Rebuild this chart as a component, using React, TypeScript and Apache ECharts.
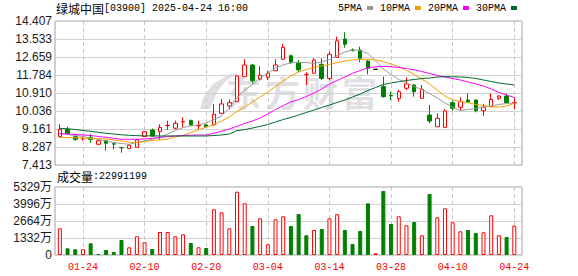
import React, { useEffect, useRef } from 'react';
import * as echarts from 'echarts';

const stockName = '绿城中国';
const stockCode = '03900';
const stamp = '2025-04-24 16:00';
const lastVolume = '22991199';

const dates = ['01-21','01-22','01-23','01-24','01-27','01-28','02-03','02-04','02-05','02-06','02-07','02-10','02-11','02-12','02-13','02-14','02-17','02-18','02-19','02-20','02-21','02-24','02-25','02-26','02-27','02-28','03-03','03-04','03-05','03-06','03-07','03-10','03-11','03-12','03-13','03-14','03-17','03-18','03-19','03-20','03-21','03-26','03-27','03-28','03-31','04-01','04-02','04-03','04-07','04-08','04-09','04-10','04-11','04-14','04-15','04-16','04-17','04-22','04-23','04-24'];

// [open, close, low, high]
const candles: number[][] = [
  [8.79, 9.15, 8.75, 9.39], [9.15, 8.95, 8.88, 9.27], [8.79, 8.66, 8.59, 8.84], [8.68, 8.70, 8.59, 8.79],
  [8.76, 8.66, 8.50, 8.92], [8.42, 8.59, 8.40, 8.63], [8.59, 8.47, 8.11, 8.63], [8.44, 8.43, 8.17, 8.50],
  [8.26, 8.25, 8.01, 8.30], [8.22, 8.37, 8.19, 8.43], [8.27, 8.63, 8.26, 8.68], [8.79, 9.03, 8.77, 9.06],
  [9.11, 8.82, 8.80, 9.18], [9.03, 9.24, 8.63, 9.39], [9.33, 9.34, 9.11, 9.57], [9.20, 9.44, 9.15, 9.57],
  [9.51, 9.52, 9.24, 9.73], [9.57, 9.36, 9.31, 9.63], [9.31, 9.33, 9.15, 9.57], [9.36, 9.27, 9.24, 9.40],
  [9.36, 9.88, 9.33, 10.38], [9.92, 10.38, 9.89, 10.62], [10.28, 10.44, 10.12, 10.60], [10.49, 11.74, 10.47, 11.78],
  [11.70, 12.27, 11.69, 12.55], [12.27, 11.51, 11.38, 12.32], [11.58, 11.78, 11.51, 12.22], [11.67, 11.87, 11.54, 11.99],
  [11.99, 12.27, 11.98, 12.55], [12.55, 13.13, 12.51, 13.29], [12.72, 12.38, 12.34, 12.77], [12.40, 12.03, 11.92, 12.51],
  [11.80, 11.82, 11.30, 11.92], [11.87, 12.51, 11.86, 12.60], [12.30, 11.62, 11.54, 12.60], [11.62, 12.79, 11.54, 12.92],
  [12.64, 13.44, 12.63, 13.65], [13.53, 13.28, 13.11, 13.86], [12.99, 12.98, 12.92, 13.08], [13.00, 12.60, 12.40, 13.16],
  [12.46, 12.11, 11.82, 12.51], [12.06, 12.06, 12.06, 12.06], [11.22, 10.73, 10.68, 11.70], [10.79, 10.77, 10.57, 10.97],
  [10.65, 10.97, 10.49, 11.06], [11.14, 11.35, 11.06, 11.67], [11.30, 10.97, 10.73, 11.35], [10.65, 11.09, 10.64, 11.30],
  [9.84, 9.55, 9.44, 10.33], [9.27, 9.68, 9.27, 9.92], [9.24, 10.04, 9.24, 10.12], [10.44, 10.17, 10.05, 10.54],
  [10.22, 10.49, 10.05, 10.70], [10.57, 10.47, 10.44, 10.89], [10.57, 10.05, 9.97, 10.59], [10.05, 10.22, 9.79, 10.38],
  [10.25, 10.60, 10.24, 10.89], [10.65, 10.76, 10.57, 10.81], [10.76, 10.44, 10.41, 10.89], [10.43, 10.44, 10.12, 10.70],
];

const ma5 = [8.953, 8.894, 8.846, 8.797, 8.724, 8.652, 8.579, 8.506, 8.457, 8.418,
  8.506, 8.579, 8.661, 8.749, 8.919, 9.089, 9.235, 9.307, 9.356, 9.453,
  9.623, 9.79, 10.182, 10.691, 11.056, 11.323, 11.638, 11.881, 12.124, 12.27,
  12.382, 12.391, 12.391, 12.343, 12.416, 12.537, 12.731, 12.901, 12.998, 12.974,
  12.83, 12.464, 12.076, 11.804, 11.566, 11.396, 11.226, 11.08, 10.886, 10.667,
  10.424, 10.23, 10.06, 10.109, 10.157, 10.23, 10.279, 10.351, 10.4, 10.424];
const ma10 = [8.758, 8.749, 8.734, 8.715, 8.71, 8.7, 8.676, 8.637, 8.579, 8.516,
  8.496, 8.555, 8.603, 8.628, 8.676, 8.773, 8.846, 8.992, 9.113, 9.259,
  9.38, 9.55, 9.744, 10.012, 10.23, 10.473, 10.716, 10.958, 11.226, 11.493,
  11.736, 11.93, 12.051, 12.149, 12.221, 12.294, 12.391, 12.464, 12.513, 12.537,
  12.547, 12.513, 12.44, 12.319, 12.187, 12.003, 11.809, 11.59, 11.347, 11.056,
  10.764, 10.57, 10.497, 10.439, 10.351, 10.303, 10.23, 10.23, 10.279, 10.41];
const ma20 = [8.943, 8.919, 8.894, 8.87, 8.846, 8.797, 8.758, 8.71, 8.661, 8.661,
  8.661, 8.676, 8.71, 8.749, 8.797, 8.822, 8.846, 8.861, 8.87, 8.87,
  8.953, 9.05, 9.161, 9.293, 9.429, 9.55, 9.696, 9.89, 10.109, 10.303,
  10.473, 10.594, 10.74, 10.91, 11.104, 11.347, 11.517, 11.687, 11.867, 12.003,
  12.139, 12.187, 12.197, 12.187, 12.149, 12.1, 12.037, 11.954, 11.857, 11.76,
  11.687, 11.614, 11.541, 11.444, 11.347, 11.25, 11.104, 10.934, 10.813, 10.691];
const ma30 = [9.195, 9.171, 9.137, 9.089, 9.05, 9.001, 8.953, 8.919, 8.88, 8.855,
  8.836, 8.831, 8.826, 8.822, 8.822, 8.822, 8.822, 8.822, 8.822, 8.822,
  8.846, 8.87, 8.919, 9.084, 9.13, 9.21, 9.29, 9.38, 9.5, 9.623,
  9.72, 9.842, 9.963, 10.084, 10.206, 10.327, 10.449, 10.57, 10.716, 10.861,
  11.031, 11.177, 11.323, 11.396, 11.459, 11.517, 11.566, 11.614, 11.639, 11.687,
  11.702, 11.702, 11.687, 11.663, 11.614, 11.541, 11.468, 11.396, 11.347, 11.299];

// volume in 万 shares
const volumes = [2092, 525, 447, 447, 917, 78, 392, 235, 1176, 603,
  1466, 995, 470, 1802, 1802, 1466, 1622, 940, 603, 549,
  3581, 3346, 2092, 4961, 4052, 2273, 2876, 839, 2798, 3033,
  2273, 3213, 1544, 1959, 2038, 2876, 3190, 1959, 862, 1881,
  4052, 133, 5016, 2430, 3033, 2328, 2586, 1544, 4781, 2955,
  3660, 2563, 1857, 1959, 1724, 1779, 3111, 1544, 1411, 2299];
const volUp = [1, 0, 0, 1, 0, 0, 0, 0, 0, 1,
  1, 1, 0, 1, 1, 1, 1, 0, 1, 0,
  1, 1, 1, 1, 1, 0, 1, 1, 1, 1,
  0, 0, 0, 1, 0, 1, 1, 0, 0, 0,
  0, 1, 0, 0, 1, 1, 0, 1, 0, 1,
  1, 1, 1, 0, 0, 1, 1, 1, 0, 1];

const priceMin = 7.413;
const priceMax = 14.407;
const priceTicks = ['7.413', '8.287', '9.161', '10.036', '10.910', '11.784', '12.659', '13.533', '14.407'];
const volMax = 5329;
const volTicks = ['0', '1332万', '2664万', '3996万', '5329万'];

const maNames = ['5PMA', '10PMA', '20PMA', '30PMA'];
const maColors = ['#9a9a9a', '#f0a000', '#ff00ff', '#006b2e'];

const UP = '#ff0000';
const DOWN = '#008000';
const MONO = 'Liberation Mono, DejaVu Sans Mono, monospace';
const CJK = 'Noto Sans CJK SC, sans-serif';
const SANS = 'Liberation Sans, Arial, Noto Sans CJK SC, sans-serif';

const labelAt = (i: number) => i % 8 === 3;

export default function App() {
  const ref = useRef<HTMLDivElement>(null);
  useEffect(() => {
    if (!ref.current) return;
    const chart = echarts.init(ref.current, null, { renderer: 'svg' });
    const dataLeft = 59.85;
    const dataWidth = 454.45;
    const frameStyle = { show: true, borderColor: '#a0a0a0', borderWidth: 1, backgroundColor: 'transparent' };
    const split = { show: true, lineStyle: { color: '#d2d2d2', width: 1 } };
    const vsplit = { show: true, interval: labelAt, lineStyle: { color: '#c8c8c8', width: 1, type: [4, 3] } };
    const wm = '#dfdfe4';
    const rich = {
      a: { fontFamily: CJK, fontSize: 12, fontWeight: 'normal', color: '#000' },
      b: { fontFamily: MONO, fontSize: 10, fontWeight: 'normal', color: '#000' },
    };
    const option: any = {
      animation: false,
      backgroundColor: '#ffffff',
      title: [
        {
          left: 56, top: 2, padding: 0,
          text: `{a|${stockName}}{b|[${stockCode}] ${stamp}}`,
          textStyle: { fontWeight: 'normal', rich },
        },
        {
          left: 57, top: 170, padding: 0,
          text: `{a|成交量}{b|:${lastVolume}}`,
          textStyle: { fontWeight: 'normal', rich },
        },
      ],
      legend: {
        left: 338, top: 3, padding: 0, align: 'right', icon: 'rect',
        itemWidth: 6, itemHeight: 4, itemGap: 7, selectedMode: false,
        textStyle: { fontFamily: MONO, fontSize: 10, color: '#000' },
        data: maNames,
      },
      graphic: [
        { type: 'polygon', z: -1, shape: { points: [[200, 109], [204, 96], [213, 84], [228, 75], [238, 73], [226, 81], [217, 92], [210, 109]] }, style: { fill: wm } },
        { type: 'text', z: -1, x: 226, y: 74, style: { text: '东', fontSize: 35, fontWeight: 'bold', fontFamily: CJK, fill: wm } },
        { type: 'text', z: -1, x: 265, y: 74, style: { text: '方', fontSize: 35, fontWeight: 'bold', fontFamily: CJK, fill: wm } },
        { type: 'text', z: -1, x: 303, y: 74, style: { text: '财', fontSize: 35, fontWeight: 'bold', fontFamily: CJK, fill: wm } },
        { type: 'text', z: -1, x: 342, y: 74, style: { text: '富', fontSize: 35, fontWeight: 'bold', fontFamily: CJK, fill: wm } },
      ],
      grid: [
        { left: 55, top: 21, width: 467, height: 144, ...frameStyle },
        { left: dataLeft, top: 21, width: dataWidth, height: 144, show: false },
        { left: 55, top: 187, width: 467, height: 68, ...frameStyle },
        { left: dataLeft, top: 187, width: dataWidth, height: 68, show: false },
      ],
      xAxis: [
        { type: 'value', gridIndex: 0, min: 0, max: 1, show: false },
        {
          type: 'category', gridIndex: 1, data: dates, boundaryGap: false,
          axisLine: { show: false }, axisTick: { show: false }, axisLabel: { show: false }, splitLine: vsplit,
        },
        { type: 'value', gridIndex: 2, min: 0, max: 1, show: false },
        {
          type: 'category', gridIndex: 3, data: dates, boundaryGap: false,
          axisLine: { show: false }, axisTick: { show: false },
          axisLabel: { show: true, interval: labelAt, color: UP, fontFamily: MONO, fontSize: 10, margin: 7 },
          splitLine: vsplit,
        },
      ],
      yAxis: [
        {
          type: 'value', gridIndex: 0, min: 0, max: 8, interval: 1,
          axisLine: { show: false }, axisTick: { show: false }, splitLine: split,
          axisLabel: { formatter: (v: number) => priceTicks[Math.round(v)], fontFamily: SANS, fontSize: 12, color: '#1a1a1a', margin: 3 },
        },
        { type: 'value', gridIndex: 1, min: priceMin, max: priceMax, show: false, splitLine: { show: false } },
        {
          type: 'value', gridIndex: 2, min: 0, max: 4, interval: 1,
          axisLine: { show: false }, axisTick: { show: false }, splitLine: split,
          axisLabel: { formatter: (v: number) => volTicks[Math.round(v)], fontFamily: SANS, fontSize: 12, color: '#1a1a1a', margin: 3 },
        },
        { type: 'value', gridIndex: 3, min: 0, max: volMax, show: false, splitLine: { show: false } },
      ],
      series: [
        {
          type: 'candlestick', name: 'K', xAxisIndex: 1, yAxisIndex: 1, data: candles, barWidth: 4, clip: false,
          itemStyle: { color: '#ffffff', color0: DOWN, borderColor: UP, borderColor0: DOWN, borderColorDoji: '#000000', borderWidth: 1 },
        },
        ...[ma5, ma10, ma20, ma30].map((d, i) => ({
          type: 'line', name: maNames[i], xAxisIndex: 1, yAxisIndex: 1, data: d,
          symbol: 'none', showSymbol: false, smooth: false,
          lineStyle: { color: maColors[i], width: 1 }, itemStyle: { color: maColors[i] },
        })),
        {
          type: 'bar', name: 'VOL', xAxisIndex: 3, yAxisIndex: 3, barWidth: 4, clip: false,
          data: volumes.map((v, i) => ({
            value: v,
            itemStyle: volUp[i]
              ? { color: '#ffffff', borderColor: UP, borderWidth: 1 }
              : { color: DOWN, borderColor: DOWN, borderWidth: 1 },
          })),
        },
      ],
    };
    chart.setOption(option);
    return () => chart.dispose();
  }, []);
  return <div ref={ref} style={{ position: 'fixed', left: 0, top: 0, width: 578, height: 276 }} />;
}
